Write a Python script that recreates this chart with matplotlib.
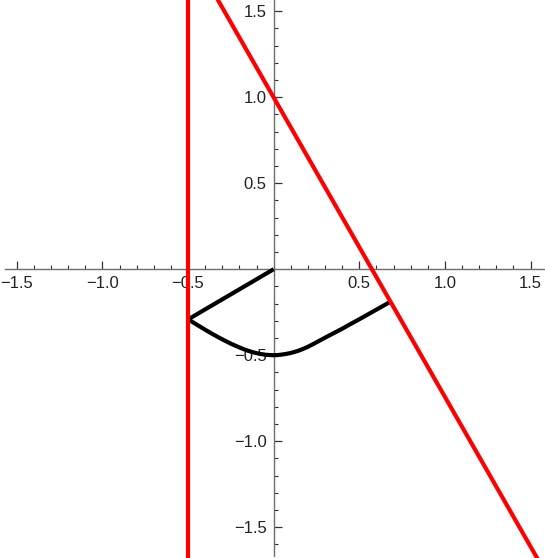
import numpy as np
import matplotlib.pyplot as plt
from matplotlib.ticker import MultipleLocator, FixedLocator

# ---------------- data ----------------
vline_x = [-0.5, -0.5]
vline_y = [1.7, -1.8]

slant_x = [-0.36, 1.57]
slant_y = [1.625, -1.735]

seg_x = [0.0, -0.5]
seg_y = [0.0, -0.292]

curve_x = [-0.5, -0.45, -0.4, -0.35, -0.3, -0.25, -0.2, -0.175, -0.15, -0.125, -0.1,
           -0.075, -0.05, -0.025, 0.0, 0.025, 0.05, 0.075, 0.1, 0.125, 0.15, 0.175,
           0.2, 0.25, 0.3, 0.35, 0.4, 0.45, 0.5, 0.55, 0.6, 0.65, 0.68]
curve_y = [-0.291, -0.322, -0.352, -0.381, -0.408, -0.433, -0.455, -0.465, -0.474,
           -0.482, -0.488, -0.493, -0.497, -0.499, -0.5, -0.499, -0.496, -0.492,
           -0.487, -0.48, -0.472, -0.462, -0.451, -0.425, -0.398, -0.372, -0.346,
           -0.318, -0.291, -0.263, -0.235, -0.207, -0.19]

major_ticks = [-1.5, -1.0, -0.5, 0.5, 1.0, 1.5]
tick_labels = ['−1.5', '−1.0', '−0.5', '0.5', '1.0', '1.5']

# ---------------- figure ----------------
plt.rcParams['font.family'] = ['Liberation Sans', 'DejaVu Sans']

fig = plt.figure(figsize=(5.45, 5.58), dpi=100)
ax = fig.add_axes([0, 0, 1, 1])
ax.patch.set_alpha(0)

ax.plot(vline_x, vline_y, color='#ff0000', lw=3.0, zorder=4, solid_capstyle='butt')
ax.plot(slant_x, slant_y, color='#ff0000', lw=3.0, zorder=4, solid_capstyle='butt')
ax.plot(seg_x, seg_y, color='black', lw=3.0, zorder=3, solid_capstyle='butt')
ax.plot(curve_x, curve_y, color='black', lw=3.0, zorder=3,
        solid_capstyle='butt', solid_joinstyle='round')

ax.set_xlim(-1.598, 1.584)
ax.set_ylim(-1.679, 1.565)

# axes through origin
for s in ['top', 'right']:
    ax.spines[s].set_visible(False)
ax.spines['left'].set_position(('data', 0))
ax.spines['bottom'].set_position(('data', 0))
ax.spines['bottom'].set_bounds(-1.569, 1.584)
ax.spines['left'].set_bounds(-1.667, 1.565)
for s in ['left', 'bottom']:
    ax.spines[s].set_color('#6e6e6e')
    ax.spines[s].set_linewidth(1.0)

ax.xaxis.set_major_locator(FixedLocator(major_ticks))
ax.yaxis.set_major_locator(FixedLocator(major_ticks))
ax.set_xticklabels(tick_labels)
ax.set_yticklabels(tick_labels)
ax.xaxis.set_minor_locator(MultipleLocator(0.1))
ax.yaxis.set_minor_locator(MultipleLocator(0.1))

ax.tick_params(which='major', direction='in', length=5.5, width=0.9,
               color='#333333', labelsize=12, labelcolor='#222222', pad=5)
ax.tick_params(which='minor', direction='in', length=3, width=0.8, color='#333333')

fig.savefig('out.png', dpi=100)
